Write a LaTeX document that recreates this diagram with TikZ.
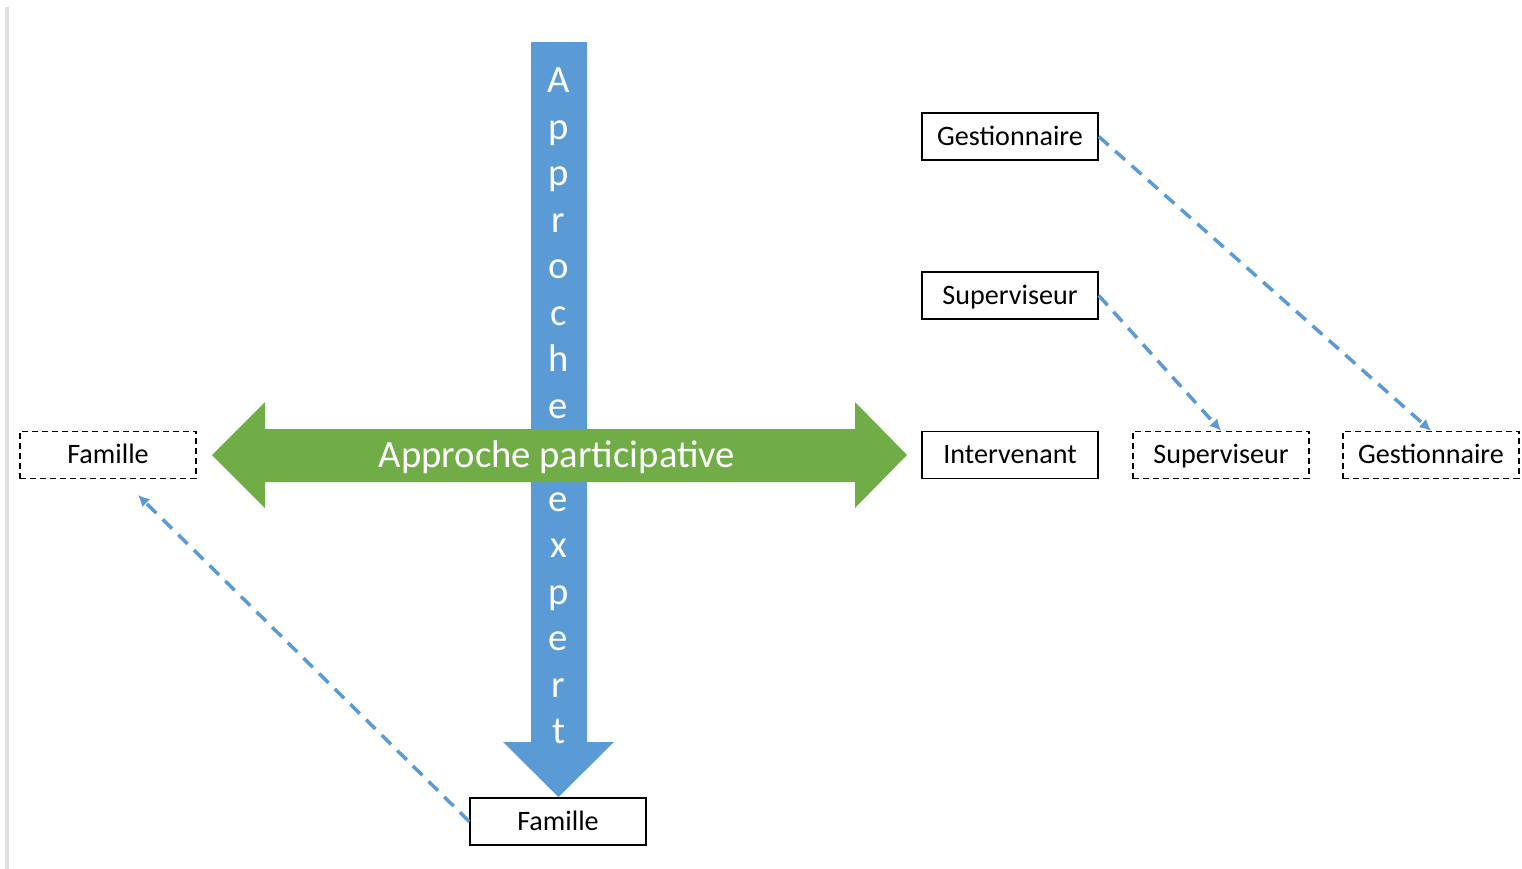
\documentclass[tikz,border=0pt]{standalone}
\usepackage{fontspec}
\setmainfont{Carlito}
\usetikzlibrary{arrows.meta}

\definecolor{arrowblue}{RGB}{91,155,213}
\definecolor{arrowgreen}{RGB}{112,173,71}

\begin{document}
\begin{tikzpicture}[x=0.02cm,y=-0.02cm,
    role/.style={draw,line width=0.85pt,minimum width=3.52cm,minimum height=0.94cm,inner sep=0pt,
      text height=13pt,text depth=3pt,font=\fontsize{16}{19}\selectfont},
    roledash/.style={role,dash pattern=on 3.4pt off 2.3pt},
    link/.style={arrowblue,line width=2pt,dash pattern=on 7.5pt off 5pt,-{Latex[length=6.5pt,width=6.5pt]}},
    bigtext/.style={white,font=\fontsize{22}{26}\selectfont,inner sep=0pt}]
    \useasboundingbox (0,0) rectangle (1522,869);
    % left border of the page
    \draw[black!12,line width=2pt] (7,7) -- (7,869);
    % vertical arrow: approche expert
    \fill[arrowblue] (531,42) -- (587,42) -- (587,742) -- (614,742)
      -- (558.5,797) -- (503,742) -- (531,742) -- cycle;
    \foreach \l [count=\i from 0] in {A,p,p,r,o,c,h,e,{},e,x,p,e,r,t}
      \node[bigtext,anchor=base] (expert\i) at (558.5,{92.5+46.5*\i}) {\l};
    % horizontal arrow: approche participative
    \fill[arrowgreen] (212,455) -- (265,402) -- (265,429) -- (855,429)
      -- (855,402) -- (907,455) -- (855,508) -- (855,482) -- (265,482)
      -- (265,508) -- cycle;
    \node[bigtext] (particip) at (557,457) {Approche participative};
    % roles
    \node[role] (gest) at (1010,136.5) {Gestionnaire};
    \node[role] (sup) at (1010,295.5) {Superviseur};
    \node[role] (interv) at (1010,455) {Intervenant};
    \node[roledash] (supD) at (1221,455) {Superviseur};
    \node[roledash] (gestD) at (1431,455) {Gestionnaire};
    \node[roledash] (famD) at (108,455) {Famille};
    \node[role] (fam) at (558,821.5) {Famille};
    \coordinate (famEnd) at (138,495);
    % moves
    \draw[link] (gest.east) -- (gestD.north);
    \draw[link] (sup.east) -- (supD.north);
    \draw[link] (fam.west) -- (famEnd);
\end{tikzpicture}
\end{document}
